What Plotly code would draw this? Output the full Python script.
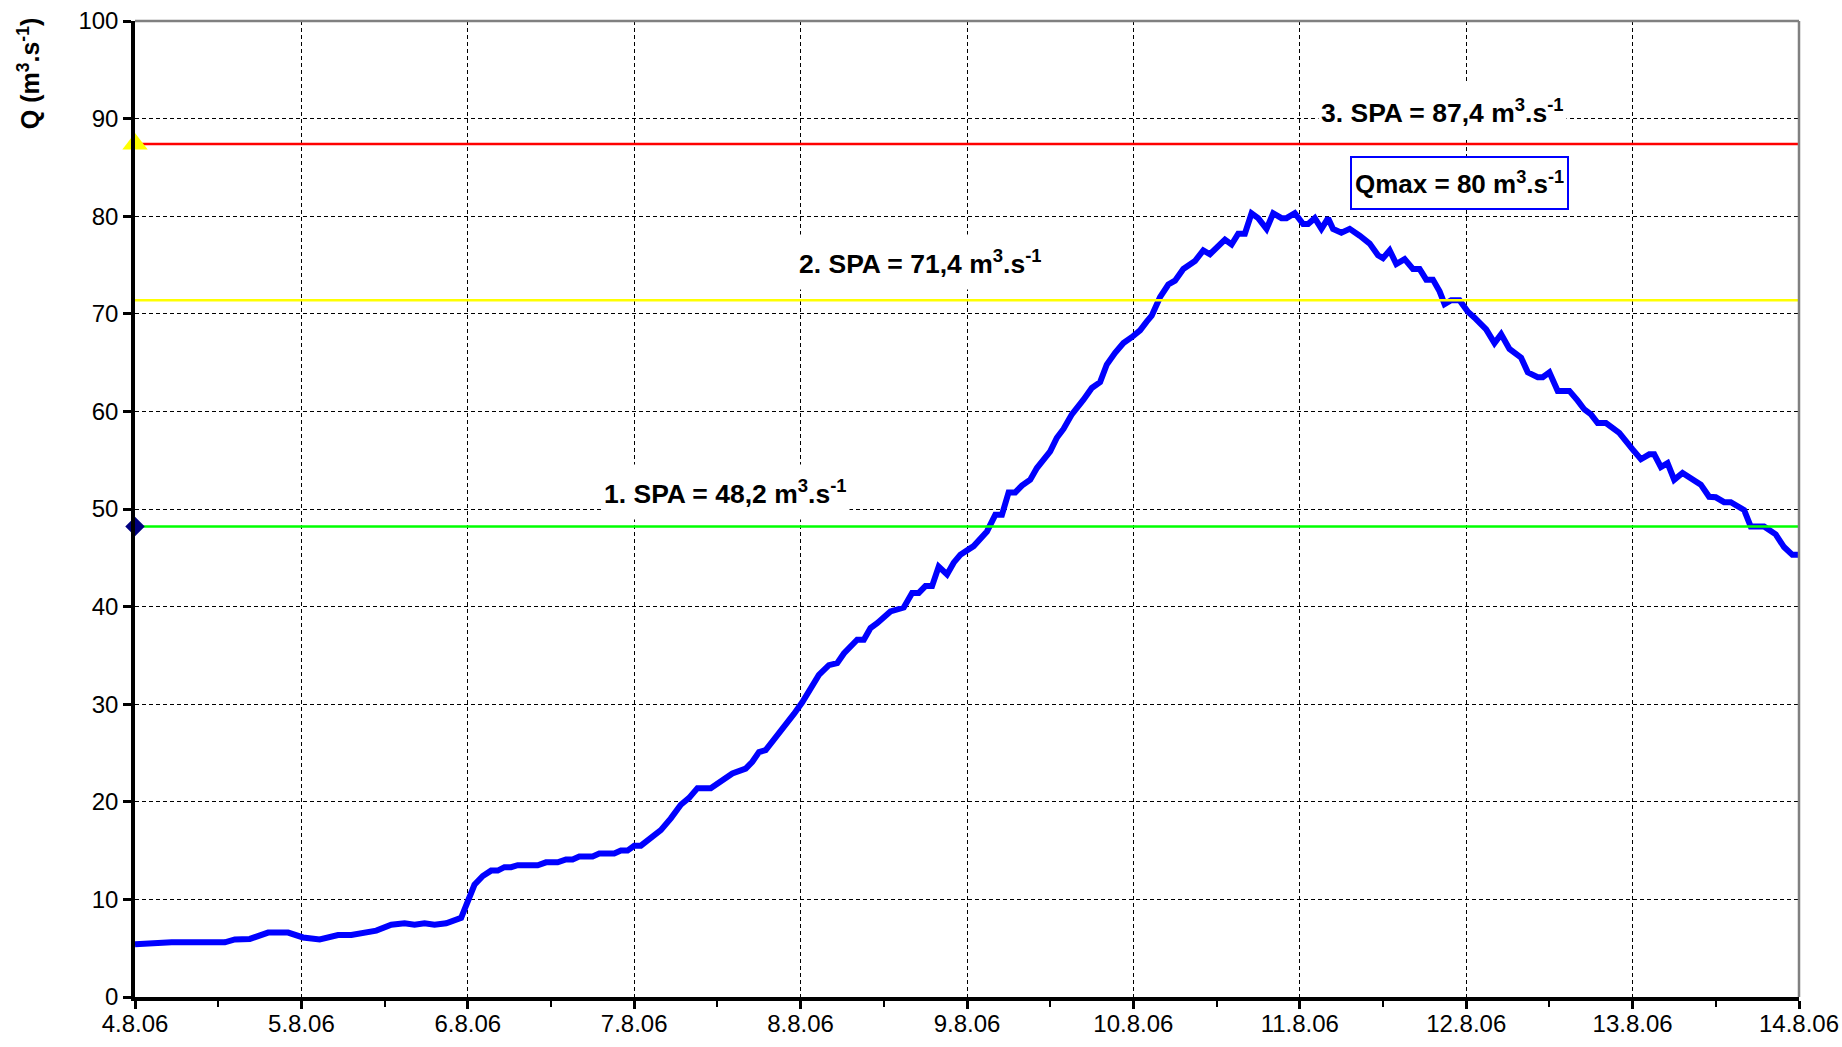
import pandas as pd
import plotly.graph_objects as go

# ---- data ----
start_date = "2006-08-04"
# time offsets (days since 4.8.06 00:00)
t_days = [0.00, 0.10, 0.16, 0.22, 0.54, 0.60, 0.69, 0.76, 0.80, 0.92,
          1.01, 1.11, 1.22, 1.30, 1.36, 1.45, 1.54, 1.62, 1.68, 1.74,
          1.80, 1.87, 1.96, 2.04, 2.09, 2.14, 2.18, 2.22, 2.26, 2.30,
          2.42, 2.47, 2.54, 2.59, 2.63, 2.67, 2.75, 2.79, 2.88, 2.92,
          2.96, 3.00, 3.04, 3.09, 3.16, 3.22, 3.28, 3.33, 3.38, 3.46,
          3.50, 3.54, 3.59, 3.67, 3.71, 3.75, 3.79, 3.85, 3.91, 3.96,
          4.01, 4.06, 4.11, 4.17, 4.22, 4.26, 4.30, 4.34, 4.38, 4.42,
          4.46, 4.54, 4.62, 4.67, 4.71, 4.75, 4.79, 4.83, 4.88, 4.92,
          4.96, 5.04, 5.12, 5.17, 5.21, 5.25, 5.29, 5.33, 5.38, 5.42,
          5.50, 5.54, 5.58, 5.63, 5.70, 5.75, 5.80, 5.84, 5.89, 5.94,
          5.99, 6.04, 6.08, 6.11, 6.16, 6.21, 6.25, 6.30, 6.37, 6.42,
          6.46, 6.52, 6.55, 6.59, 6.63, 6.67, 6.71, 6.75, 6.80, 6.84,
          6.89, 6.92, 6.97, 7.02, 7.05, 7.09, 7.13, 7.17, 7.20, 7.25,
          7.30, 7.36, 7.42, 7.47, 7.50, 7.54, 7.58, 7.63, 7.68, 7.72,
          7.76, 7.80, 7.84, 7.87, 7.91, 7.96, 8.01, 8.05, 8.09, 8.12,
          8.17, 8.21, 8.26, 8.33, 8.37, 8.43, 8.46, 8.50, 8.55, 8.62,
          8.67, 8.71, 8.75, 8.79, 8.84, 8.92, 9.00, 9.05, 9.10, 9.13,
          9.17, 9.21, 9.25, 9.30, 9.41, 9.46, 9.50, 9.55, 9.59, 9.67,
          9.71, 9.79, 9.86, 9.91, 9.96, 10.00]
discharge = [5.4, 5.5, 5.55, 5.6, 5.6, 5.9, 5.95, 6.4, 6.6, 6.6,
             6.1, 5.9, 6.35, 6.35, 6.5, 6.8, 7.4, 7.55, 7.4, 7.55,
             7.4, 7.55, 8.1, 11.5, 12.4, 12.95, 12.95, 13.3, 13.3, 13.5,
             13.5, 13.8, 13.8, 14.1, 14.1, 14.4, 14.4, 14.7, 14.7, 15.0,
             15.0, 15.5, 15.5, 16.2, 17.1, 18.3, 19.7, 20.4, 21.4, 21.4,
             21.9, 22.3, 22.9, 23.4, 24.1, 25.1, 25.3, 26.6, 27.8, 29.0,
             30.2, 31.7, 33.0, 34.0, 34.2, 35.2, 35.9, 36.6, 36.6, 37.8,
             38.3, 39.5, 39.9, 41.4, 41.4, 42.1, 42.1, 44.1, 43.3, 44.5,
             45.3, 46.2, 47.7, 49.4, 49.4, 51.7, 51.7, 52.4, 53.0, 54.2,
             55.9, 57.3, 58.2, 59.7, 61.2, 62.4, 63.0, 64.8, 66.0, 67.0,
             67.6, 68.3, 69.2, 69.8, 71.7, 73.0, 73.4, 74.6, 75.4, 76.5,
             76.1, 77.2, 77.6, 77.1, 78.2, 78.2, 80.3, 79.8, 78.7, 80.3,
             79.8, 79.8, 80.3, 79.2, 79.2, 79.8, 78.7, 79.8, 78.7, 78.3,
             78.7, 78.0, 77.2, 76.0, 75.7, 76.5, 75.1, 75.6, 74.6, 74.6,
             73.5, 73.5, 72.3, 71.0, 71.4, 71.4, 70.2, 69.6, 68.8, 68.4,
             67.0, 67.9, 66.4, 65.5, 64.0, 63.5, 63.5, 64.0, 62.1, 62.1,
             61.1, 60.2, 59.7, 58.8, 58.8, 57.8, 56.1, 55.1, 55.6, 55.6,
             54.3, 54.7, 53.0, 53.7, 52.5, 51.25, 51.2, 50.7, 50.7, 49.9,
             48.2, 48.2, 47.4, 46.1, 45.3, 45.3]

spa_levels = [48.2, 71.4, 87.4]
spa_labels = ["1. SPA = 48,2 m<sup>3</sup>.s<sup>-1</sup>",
              "2. SPA = 71,4 m<sup>3</sup>.s<sup>-1</sup>",
              "3. SPA = 87,4 m<sup>3</sup>.s<sup>-1</sup>"]
spa_colors = ["#00FF00", "#FFFF00", "#FF0000"]
qmax_label = "Qmax = 80 m<sup>3</sup>.s<sup>-1</sup>"
x_span_days = [0, 10]

# ---- figure ----
base = pd.Timestamp(start_date)
def d(t):
    return base + pd.Timedelta(days=t)

x_dates = [d(t) for t in t_days]
x_span = [d(t) for t in x_span_days]

FONT = "Liberation Sans, Arial, sans-serif"
fig = go.Figure()

fig.add_trace(go.Scatter(x=x_dates, y=discharge, mode="lines",
                         line=dict(color="#0000FF", width=6),
                         showlegend=False))
for lvl, col in zip(spa_levels, spa_colors):
    fig.add_trace(go.Scatter(x=x_span, y=[lvl, lvl], mode="lines",
                             line=dict(color=col, width=2.5),
                             showlegend=False))

fig.add_trace(go.Scatter(x=[x_span[0]], y=[spa_levels[0]], mode="markers",
                         marker=dict(symbol="diamond", color="#000080", size=15,
                                     line=dict(width=0)),
                         cliponaxis=False, showlegend=False))
fig.add_trace(go.Scatter(x=[x_span[0]], y=[spa_levels[2]], mode="markers",
                         marker=dict(symbol="triangle-up", color="#FFFF00", size=22,
                                     line=dict(width=0)),
                         cliponaxis=False, showlegend=False))

ann_font = dict(family=FONT, size=26.5, color="black")
ann_pos = [(3.55, 51.7), (4.72, 75.3), (7.86, 90.8)]
for (tx, vy), txt in zip(ann_pos, spa_labels):
    fig.add_annotation(x=d(tx), y=vy, text="<b>" + txt + "</b>", showarrow=False,
                       font=ann_font, bgcolor="white", borderpad=2, height=50,
                       xanchor="center", yanchor="middle")
fig.add_annotation(x=d(7.96), y=83.4, text="<b>" + qmax_label + "</b>", showarrow=False,
                   font=dict(family=FONT, size=26, color="black"),
                   bgcolor="white", bordercolor="#0000FF",
                   borderwidth=2, borderpad=3, height=44,
                   xanchor="center", yanchor="middle")

# Y-axis title
fig.add_annotation(xref="paper", yref="paper", x=-0.064, y=0.946,
                   text="<b>Q (m<sup>3</sup>.s<sup>-1</sup>)</b>", textangle=-90,
                   showarrow=False, font=dict(family=FONT, size=25, color="black"),
                   xanchor="center", yanchor="middle")

# top and right border (gray)
fig.add_shape(type="line", xref="paper", yref="paper", x0=0, x1=1, y0=1, y1=1,
              line=dict(color="#808080", width=2.5))
fig.add_shape(type="line", xref="paper", yref="paper", x0=1, x1=1, y0=0, y1=1,
              line=dict(color="#808080", width=2.5))

fig.update_layout(
    width=1842, height=1047,
    margin=dict(l=135, r=43, t=21, b=50, autoexpand=False),
    paper_bgcolor="white", plot_bgcolor="white",
    font=dict(family=FONT, size=21, color="black"),
    showlegend=False,
)
fig.update_xaxes(
    type="date", range=x_span, tick0=start_date, dtick=86400000,
    tickformat="%-d.%-m.%y", automargin=False,
    showline=True, linecolor="black", linewidth=3.5,
    ticks="outside", ticklen=8, tickwidth=3, tickcolor="black",
    showgrid=True, gridcolor="black", gridwidth=1, griddash="4px,3px",
    zeroline=False, ticklabelstandoff=-6,
    minor=dict(dtick=43200000, ticks="outside", ticklen=6, tickwidth=2,
               tickcolor="black", showgrid=False),
    tickfont=dict(family=FONT, size=24, color="black"),
)
fig.update_yaxes(
    range=[0, 100], dtick=10, tick0=0, automargin=False,
    showline=True, linecolor="black", linewidth=3.5,
    ticks="outside", ticklen=8, tickwidth=3, tickcolor="black",
    showgrid=True, gridcolor="black", gridwidth=1, griddash="4px,3px",
    zeroline=False, ticklabelstandoff=0,
    tickfont=dict(family=FONT, size=24, color="black"),
)

fig.write_html("out.html")
